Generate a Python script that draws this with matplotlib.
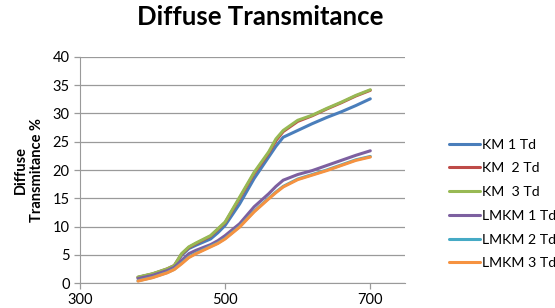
import matplotlib
matplotlib.use("Agg")
import matplotlib.pyplot as plt

# === data ===
wavelength = [380, 400, 420, 430, 440, 450, 460, 480, 490, 500, 520, 540, 560, 570,
              580, 600, 620, 640, 660, 680, 700]
km1 = [1.0, 1.6, 2.4, 3.0, 4.9, 6.1, 6.7, 7.8, 8.9, 10.2, 14.0, 18.5, 22.3, 24.2,
       25.8, 27.0, 28.2, 29.3, 30.3, 31.4, 32.6]
km2 = [1.0, 1.6, 2.5, 3.1, 5.1, 6.3, 7.0, 8.3, 9.5, 10.7, 15.0, 19.4, 23.0, 25.2,
       26.8, 28.6, 29.6, 30.8, 31.9, 33.1, 34.1]
km3 = [1.06, 1.65, 2.5, 3.1, 5.2, 6.4, 7.1, 8.4, 9.6, 10.8, 15.2, 19.6, 23.2, 25.5,
       27.0, 28.8, 29.7, 30.9, 32.0, 33.2, 34.2]
lmkm1 = [0.8, 1.36, 2.2, 2.8, 4.0, 5.2, 5.8, 6.8, 7.5, 8.4, 10.5, 13.5, 15.8, 17.1,
         18.2, 19.2, 19.9, 20.8, 21.7, 22.6, 23.4]
lmkm2 = [0.4, 1.0, 1.85, 2.45, 3.5, 4.6, 5.3, 6.5, 7.1, 7.9, 10.0, 12.7, 15.0, 16.1,
         17.1, 18.4, 19.2, 20.0, 20.9, 21.8, 22.4]
lmkm3 = [0.35, 0.95, 1.8, 2.4, 3.4, 4.5, 5.2, 6.4, 7.0, 7.8, 9.9, 12.6, 14.9, 16.0,
         17.0, 18.3, 19.1, 19.9, 20.8, 21.7, 22.3]

series = [
    ("KM 1 Td", km1, "#4A7EBB"),
    ("KM  2 Td", km2, "#BE4B48"),
    ("KM  3 Td", km3, "#98B954"),
    ("LMKM 1 Td", lmkm1, "#7D60A0"),
    ("LMKM 2 Td", lmkm2, "#46AAC5"),
    ("LMKM 3 Td", lmkm3, "#F69240"),
]

plt.rcParams["font.family"] = ["Lato", "DejaVu Sans"]

fig = plt.figure(figsize=(5.55, 3.08), dpi=100)
ax = fig.add_axes([0.144, 0.081, 0.586, 0.734])

for label, vals, color in series:
    ax.plot(wavelength, vals, color=color, lw=2.2, label=label, solid_capstyle="round")

ax.set_xlim(300, 748)
ax.set_ylim(0, 40)
ax.set_xticks([300, 500, 700])
ax.set_yticks(range(0, 41, 5))
ax.grid(axis="y", color="#9a9a9a", lw=0.9)
ax.set_axisbelow(True)
for side in ["top", "right"]:
    ax.spines[side].set_visible(False)
for side in ["left", "bottom"]:
    ax.spines[side].set_color("#9a9a9a")
ax.tick_params(axis="both", colors="#9a9a9a", labelcolor="black", labelsize=10.5,
               length=4, width=0.9)

ax.set_ylabel("Diffuse\nTransmitance %", fontsize=10.5, fontweight="bold", labelpad=6)
fig.suptitle("Diffuse Transmitance", x=0.469, y=0.985, fontsize=18.5, fontweight="bold")

fig.legend(loc="upper left", bbox_to_anchor=(0.796, 0.573), frameon=False,
           fontsize=10.2, handlelength=2.2, handletextpad=0.12, labelspacing=0.83,
           borderpad=0)

fig.savefig("out.png", dpi=100)
